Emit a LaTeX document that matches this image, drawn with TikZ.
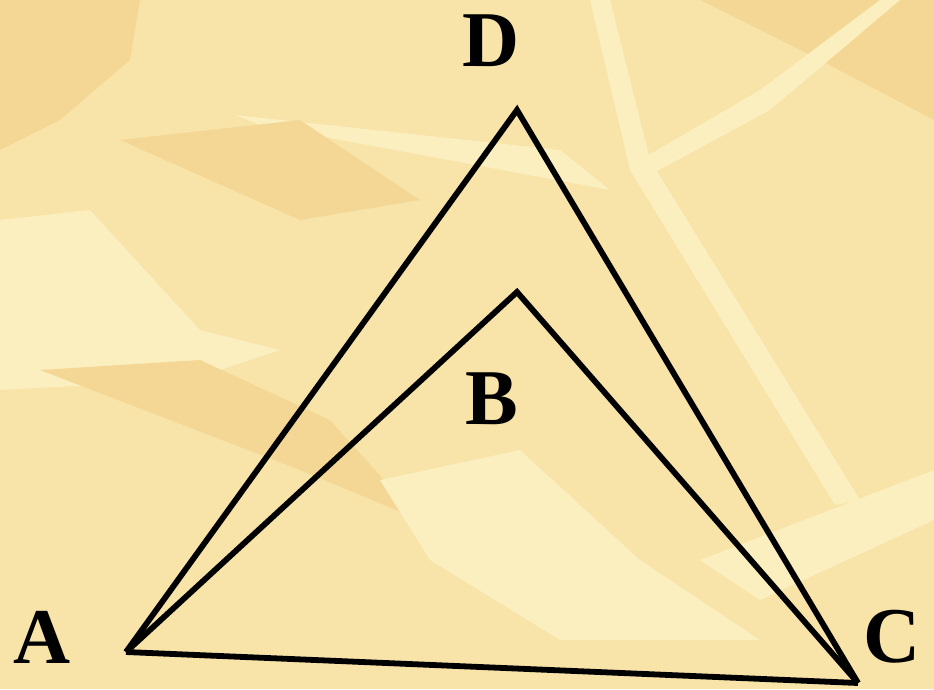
\documentclass[tikz,border=0pt]{standalone}
\usepackage{fontspec}
\setmainfont{Liberation Serif}
\begin{document}
\begin{tikzpicture}[x=1pt,y=-1pt,
  edge/.style={line width=5.8pt,line join=miter,black},
  lbl/.style={font=\fontsize{79}{79}\selectfont\bfseries,text=black,inner sep=0pt}]
\definecolor{bgbase}{HTML}{F8E3A9}
\definecolor{bglight}{HTML}{FBEFC0}
\definecolor{bgdark}{HTML}{F4D794}
\useasboundingbox (0,0) rectangle (934,689);
\fill[bgbase] (0,0) rectangle (934,689);
% background texture
\fill[bgdark] (0,0) -- (140,0) -- (130,60) -- (60,120) -- (0,150) -- cycle;
\fill[bgdark] (700,0) -- (934,0) -- (934,120) -- (820,60) -- cycle;
\fill[bglight] (0,220) -- (90,210) -- (200,330) -- (280,350) -- (190,380) -- (0,390) -- cycle;
\fill[bgdark] (40,370) -- (200,360) -- (330,420) -- (420,520) -- (300,470) -- cycle;
\fill[bglight] (380,480) -- (520,450) -- (640,560) -- (760,640) -- (560,640) -- (430,560) -- cycle;
\fill[bglight] (235,115) -- (560,150) -- (610,190) -- (260,125) -- cycle;
\fill[bglight] (590,0) -- (610,0) -- (650,160) -- (860,500) -- (835,505) -- (630,170) -- cycle;
\fill[bglight] (640,160) -- (760,90) -- (880,0) -- (900,0) -- (770,110) -- (650,175) -- cycle;
\fill[bgdark] (120,140) -- (300,120) -- (420,200) -- (300,220) -- cycle;
\fill[bglight] (700,560) -- (934,470) -- (934,520) -- (760,600) -- cycle;
% points
\coordinate (A) at (126,652);
\coordinate (B) at (517,292);
\coordinate (C) at (858,683);
\coordinate (D) at (517,110);
\draw[edge] (A) -- (D) -- (C);
\draw[edge] (A) -- (B) -- (C);
\draw[edge] (A) -- (C);
% labels
\node[lbl] (lD) at (491,41) {D};
\node[lbl] (lB) at (492,399) {B};
\node[lbl] (lA) at (42,637) {A};
\node[lbl] (lC) at (892,637) {C};
\end{tikzpicture}
\end{document}
